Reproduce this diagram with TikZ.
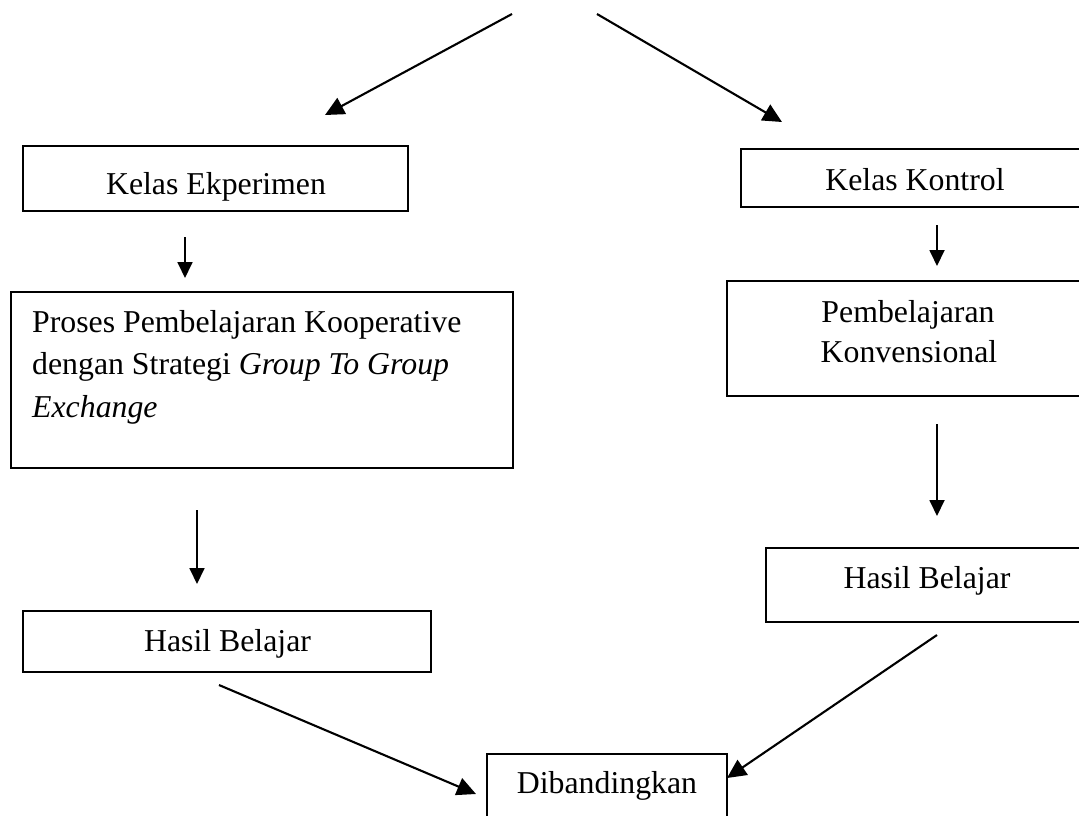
\documentclass[tikz,border=0pt]{standalone}
\usepackage{fontspec}
\setmainfont{Liberation Serif}
\usetikzlibrary{arrows.meta}
\begin{document}
\begin{tikzpicture}[x=1pt,y=-1pt,
  boxstyle/.style={draw=black,line width=1.5pt,inner sep=0pt},
  txt/.style={inner sep=0pt,font=\fontsize{31.8}{42}\selectfont},
  arr/.style={line width=2.1pt,-{Triangle[length=19pt,width=18pt]}},
  varr/.style={line width=1.8pt,-{Triangle[length=16pt,width=15pt]}}]
\clip (0,0) rectangle (1079,815);
\fill[white] (0,0) rectangle (1079,815);
% boxes
\node[boxstyle,minimum width=385pt,minimum height=65pt] (ke) at (215.5,178.5) {};
\node[boxstyle,minimum width=349pt,minimum height=58pt] (kk) at (915.5,178) {};
\node[boxstyle,minimum width=502pt,minimum height=176pt] (pr) at (262,380) {};
\node[boxstyle,minimum width=363pt,minimum height=115pt] (pk) at (908.5,338.5) {};
\node[boxstyle,minimum width=408pt,minimum height=61pt] (hl) at (227,641.5) {};
\node[boxstyle,minimum width=324pt,minimum height=74pt] (hr) at (928,585) {};
\node[boxstyle,minimum width=240pt,minimum height=76pt] (db) at (607,792) {};
% texts
\node[txt,anchor=base] (tke) at (216,194) {Kelas Ekperimen};
\node[txt,anchor=base] (tkk) at (915,190) {Kelas Kontrol};
\node[txt,anchor=base west] (tp1) at (32,332) {Proses Pembelajaran Kooperative};
\node[txt,anchor=base west] (tp2) at (32,374) {dengan Strategi \textit{Group To Group}};
\node[txt,anchor=base west] (tp3) at (32,417) {\textit{Exchange}};
\node[txt,anchor=base] (tk1) at (908,322) {Pembelajaran};
\node[txt,anchor=base] (tk2) at (909,362) {Konvensional};
\node[txt,anchor=base] (thl) at (227.5,651) {Hasil Belajar};
\node[txt,anchor=base] (thr) at (927,588) {Hasil Belajar};
\node[txt,anchor=base] (tdb) at (607,793) {Dibandingkan};
% arrow end points
\coordinate (s1) at (512,14);  \coordinate (e1) at (325,115);
\coordinate (s2) at (597,14);  \coordinate (e2) at (782,122);
\coordinate (s3) at (185,237); \coordinate (e3) at (185,278);
\coordinate (s4) at (937,225); \coordinate (e4) at (937,266);
\coordinate (s5) at (197,510); \coordinate (e5) at (197,584);
\coordinate (s6) at (937,424); \coordinate (e6) at (937,516);
\coordinate (s7) at (219,685); \coordinate (e7) at (476,794);
\coordinate (s8) at (937,635); \coordinate (e8) at (727,778);
% connectors
\draw[arr] (s1) -- (e1);
\draw[arr] (s2) -- (e2);
\draw[varr] (s3) -- (e3);
\draw[varr] (s4) -- (e4);
\draw[varr] (s5) -- (e5);
\draw[varr] (s6) -- (e6);
\draw[arr] (s7) -- (e7);
\draw[arr] (s8) -- (e8);
\end{tikzpicture}
\end{document}
